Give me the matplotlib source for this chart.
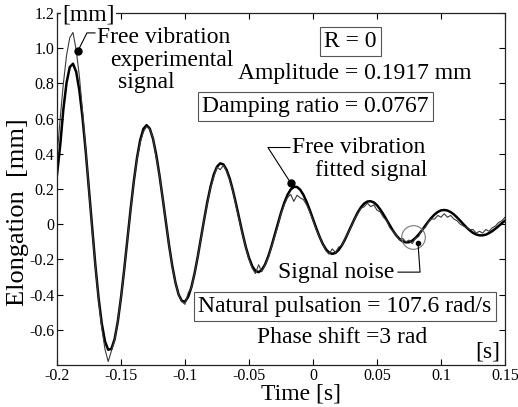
import numpy as np
import matplotlib
matplotlib.use("Agg")
import matplotlib.pyplot as plt

plt.rcParams['font.family'] = ['Liberation Serif', 'DejaVu Serif']

# time samples [s], step 2.5 ms
t = np.linspace(-0.2, 0.15, 141)

# fitted signal [mm]
fitted = [0.28, 0.447, 0.654, 0.805, 0.893, 0.912, 0.866, 0.760, 0.603, 0.410,
          0.195, -0.025, -0.234, -0.419, -0.565, -0.665, -0.713, -0.708, -0.653, -0.553,
          -0.417, -0.258, -0.086, 0.085, 0.243, 0.377, 0.478, 0.542, 0.563, 0.543,
          0.486, 0.395, 0.281, 0.151, 0.015, -0.117, -0.234, -0.330, -0.399, -0.435,
          -0.440, -0.412, -0.357, -0.278, -0.182, -0.077, 0.029, 0.129, 0.215, 0.283,
          0.327, 0.346, 0.340, 0.309, 0.258, 0.190, 0.111, 0.028, -0.054, -0.129,
          -0.191, -0.238, -0.265, -0.272, -0.259, -0.229, -0.183, -0.126, -0.062, 0.003,
          0.066, 0.121, 0.166, 0.197, 0.212, 0.212, 0.196, 0.167, 0.127, 0.080,
          0.029, -0.022, -0.069, -0.110, -0.141, -0.161, -0.168, -0.163, -0.146, -0.120,
          -0.086, -0.047, -0.007, 0.032, 0.068, 0.097, 0.118, 0.129, 0.131, 0.124,
          0.108, 0.084, 0.056, 0.025, -0.007, -0.037, -0.063, -0.083, -0.097, -0.103,
          -0.102, -0.093, -0.078, -0.058, -0.035, -0.010, 0.015, 0.037, 0.056, 0.070,
          0.079, 0.081, 0.078, 0.069, 0.056, 0.039, 0.020, 0.000, -0.019, -0.035,
          -0.049, -0.058, -0.063, -0.063, -0.059, -0.050, -0.039, -0.025, -0.010, 0.006, 0.020]

# experimental signal [mm] (noisy)
experimental = [0.38, 0.60, 0.80, 0.96, 1.06, 1.09, 0.99, 0.84, 0.64, 0.42,
                0.19, -0.03, -0.24, -0.43, -0.59, -0.71, -0.78, -0.72, -0.66, -0.55,
                -0.42, -0.26, -0.09, 0.08, 0.24, 0.37, 0.465, 0.525, 0.555, 0.54,
                0.49, 0.38, 0.28, 0.15, 0.02, -0.12, -0.24, -0.33, -0.40, -0.44,
                -0.455, -0.39, -0.36, -0.28, -0.18, -0.08, 0.03, 0.12, 0.21, 0.27,
                0.325, 0.31, 0.335, 0.30, 0.25, 0.185, 0.10, 0.02, -0.06, -0.13,
                -0.20, -0.25, -0.28, -0.23, -0.27, -0.23, -0.19, -0.13, -0.07, -0.01,
                0.06, 0.11, 0.15, 0.17, 0.13, 0.165, 0.15, 0.14, 0.11, 0.07,
                0.02, -0.03, -0.07, -0.11, -0.15, -0.17, -0.14, -0.16, -0.13, -0.12,
                -0.08, -0.05, -0.01, 0.03, 0.06, 0.09, 0.10, 0.12, 0.10, 0.11,
                0.08, 0.07, 0.04, 0.02, -0.02, -0.04, -0.06, -0.09, -0.08, -0.10,
                -0.09, -0.11, -0.08, -0.07, -0.03, -0.02, 0.01, 0.03, 0.03, 0.05,
                0.04, 0.06, 0.04, 0.05, 0.03, 0.02, 0.00, -0.01, -0.02, -0.03,
                -0.03, -0.05, -0.04, -0.05, -0.03, -0.04, -0.02, -0.01, 0.01, 0.02, 0.04]

x_ticks = [-0.2, -0.15, -0.1, -0.05, 0, 0.05, 0.1, 0.15]
x_labels = ['-0.2', '-0.15', '-0.1', '-0.05', '0', '0.05', '0.1', '0.15']
y_ticks = [-0.6, -0.4, -0.2, 0, 0.2, 0.4, 0.6, 0.8, 1.0, 1.2]
y_labels = ['-0.6', '-0.4', '-0.2', '0', '0.2', '0.4', '0.6', '0.8', '1.0', '1.2']

# annotated points
exp_point = (-0.1836, 0.985)
fit_point = (-0.0172, 0.232)
noise_point = (0.082, -0.108)
noise_circle = (0.078, -0.074)

fig = plt.figure(figsize=(5.18, 4.07), dpi=100)
ax = fig.add_axes([0.110, 0.103, 0.865, 0.865])

ax.plot(t, fitted, color='black', linewidth=1.8)
ax.plot(t, experimental, color='#3a3a3a', linewidth=0.8)

ax.set_xlim(-0.2, 0.15)
ax.set_ylim(-0.8, 1.2)
ax.set_xticks(x_ticks)
ax.set_xticklabels(x_labels)
ax.set_yticks(y_ticks)
ax.set_yticklabels(y_labels)
ax.tick_params(direction='in', length=4, width=0.8, top=True, right=True,
               labelsize=11.5, pad=2)
for s in ax.spines.values():
    s.set_linewidth(0.9)
    s.set_color('#222222')

ax.set_xlabel('Time [s]', fontsize=17)
ax.xaxis.set_label_coords(0.545, -0.052)
ax.set_ylabel('Elongation  [mm]', fontsize=19)
ax.yaxis.set_label_coords(-0.088, 0.435)
ax.yaxis.label.set_va('center')

# unit labels on the axes
ax.text(-0.1961, 1.19, '[mm]', fontsize=17, ha='left', va='center', clip_on=False,
        zorder=5, bbox=dict(facecolor='white', edgecolor='none', pad=1))
ax.text(0.1266, -0.725, '[s]', fontsize=17, ha='left', va='center')

# experimental signal callout
ax.plot([exp_point[0], -0.1766, -0.1703], [exp_point[1], 1.087, 1.087], color='black', lw=0.8)
ax.plot(*exp_point, 'o', color='black', ms=5)
ax.text(-0.169, 1.06, 'Free vibration', fontsize=17, ha='left', va='center')
ax.text(-0.1586, 0.929, 'experimental', fontsize=17, ha='left', va='center')
ax.text(-0.1523, 0.805, 'signal', fontsize=17, ha='left', va='center')

# fitted signal callout
ax.plot([fit_point[0], -0.0352, -0.018], [fit_point[1], 0.436, 0.436], color='black', lw=0.8)
ax.plot(*fit_point, 'o', color='black', ms=5)
ax.text(-0.0164, 0.436, 'Free vibration', fontsize=17, ha='left', va='center')
ax.text(0.0016, 0.306, 'fitted signal', fontsize=17, ha='left', va='center')

# noise callout
ax.plot(*noise_circle, 'o', mfc='none', mec='#777777', mew=0.8, ms=17)
ax.plot([noise_point[0], 0.0836, 0.0664], [noise_point[1], -0.272, -0.272], color='black', lw=0.8)
ax.plot(*noise_point, 'o', color='black', ms=3)
ax.text(-0.0273, -0.272, 'Signal noise', fontsize=17, ha='left', va='center')

# fit parameters
box = dict(facecolor='white', edgecolor='#555555', linewidth=0.8, pad=3)
ax.text(0.0289, 1.037, 'R = 0', fontsize=17, ha='center', va='center', bbox=box)
ax.text(0.0328, 0.856, 'Amplitude = 0.1917 mm', fontsize=17, ha='center', va='center')
ax.text(0.002, 0.669, 'Damping ratio = 0.0767', fontsize=17, ha='center', va='center', bbox=box)
ax.text(0.025, -0.467, 'Natural pulsation = 107.6 rad/s', fontsize=17, ha='center', va='center', bbox=box)
ax.text(-0.04375, -0.646, 'Phase shift =3 rad', fontsize=17, ha='left', va='center')

plt.savefig('out.png', dpi=100)
